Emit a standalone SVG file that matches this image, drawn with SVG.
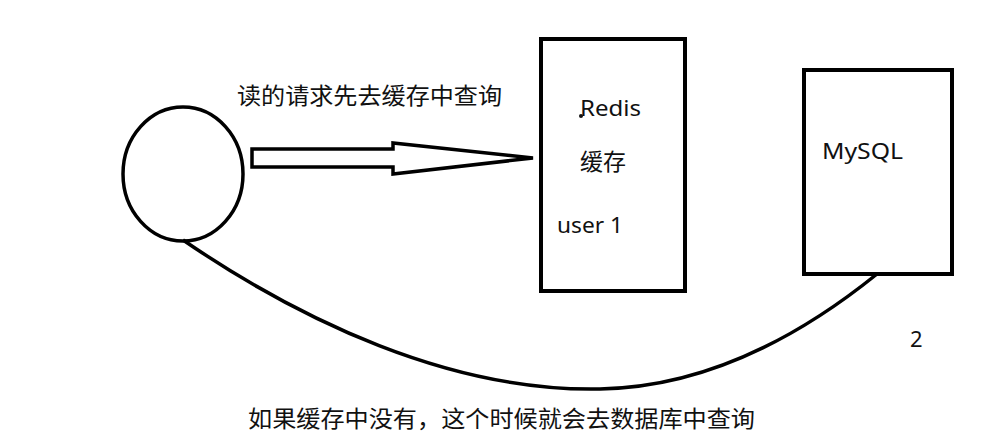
<svg xmlns="http://www.w3.org/2000/svg" width="998" height="441" viewBox="0 0 998 441">
<style>
.s{fill:none;stroke:#000;stroke-width:3.5}
.b{fill:#fff;stroke:#000;stroke-width:4}
.t{font-family:"Noto Sans","Open Sans","Noto Sans CJK SC",sans-serif;font-size:22px;fill:#111}
.c{font-family:"Noto Sans CJK SC","Noto Sans CJK JP",sans-serif;font-size:23px;fill:#111}
</style>
<rect width="998" height="441" fill="#fff"/>
<g id="connectors">
<path class="s" d="M183,240 C300,320 450,392 600,389 C720,387 820,320 877,274"/>
<path class="s" d="M252,149 L393,149 L393,143 L533,158 L393,174 L393,167 L252,167 Z" fill="#fff"/>
</g>
<g id="client">
<ellipse class="s" cx="183" cy="174" rx="60" ry="67"/>
</g>
<g id="redis">
<rect class="b" x="541" y="39" width="144" height="252"/>
<circle cx="581" cy="116" r="2" fill="#111"/>
<text class="t" x="580" y="116" textLength="61" lengthAdjust="spacingAndGlyphs">Redis</text>
<text class="c" x="580" y="170">缓存</text>
<text class="t" x="557" y="233" textLength="66" lengthAdjust="spacingAndGlyphs">user 1</text>
</g>
<g id="mysql">
<rect class="b" x="804" y="70" width="148" height="204"/>
<text class="t" x="822" y="159" textLength="81" lengthAdjust="spacingAndGlyphs">MySQL</text>
</g>
<g id="labels">
<text class="c" x="237" y="104" textLength="265" lengthAdjust="spacingAndGlyphs">读的请求先去缓存中查询</text>
<text class="c" x="248" y="427" textLength="507" lengthAdjust="spacingAndGlyphs">如果缓存中没有，这个时候就会去数据库中查询</text>
<text class="t" x="910" y="347">2</text>
</g>
</svg>
